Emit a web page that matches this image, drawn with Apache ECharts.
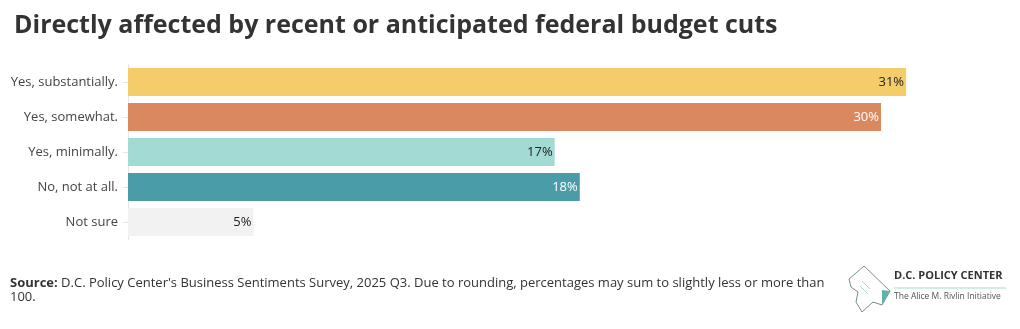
<!DOCTYPE html>
<html><head><meta charset="utf-8">
<script src="https://cdn.jsdelivr.net/npm/echarts@6/dist/echarts.min.js"></script>
<style>html,body{margin:0;padding:0;background:#fff}#c{width:1020px;height:329px}</style>
</head><body><div id="c"></div>
<script>
const categories = ["Yes, substantially.", "Yes, somewhat.", "Yes, minimally.", "No, not at all.", "Not sure"];
const values = [31, 30, 17, 18, 5];
const barColors = ["#F4CD6A", "#DA8860", "#A3DAD3", "#4A9DA8", "#F2F2F2"];
const labelColors = ["#222", "#fff", "#222", "#fff", "#222"];
const title = "Directly affected by recent or anticipated federal budget cuts";

const chart = echarts.init(document.getElementById('c'), null, {renderer: 'canvas'});
const FONT = '"Open Sans", sans-serif';
chart.setOption({
  animation: false,
  title: {text: title, left: 9, top: 8, textStyle: {fontFamily: FONT, fontSize: 25, fontWeight: 'bold', color: '#333'}},
  grid: {left: 128, top: 64.5, height: 175, right: 13.5},
  xAxis: {type: 'value', min: 0, max: 35, show: false},
  yAxis: {
    type: 'category', data: categories, inverse: true,
    axisLine: {show: true, lineStyle: {color: '#e6e6e6'}},
    axisTick: {show: true, length: 5, alignWithLabel: true, lineStyle: {color: '#e6e6e6'}},
    axisLabel: {fontFamily: FONT, fontSize: 13, color: '#444', margin: 10}
  },
  series: [{
    type: 'bar', barCategoryGap: '20%',
    data: values.map((v, i) => ({value: v, itemStyle: {color: barColors[i]},
      label: {color: labelColors[i]}})),
    label: {show: true, position: 'insideRight', distance: 2, fontFamily: FONT, fontSize: 13,
      formatter: p => p.value + '%'}
  }],
  graphic: [
    {type: 'text', left: 10, top: 276, style: {
      text: '{b|Source:} D.C. Policy Center\'s Business Sentiments Survey, 2025 Q3. Due to rounding, percentages may sum to slightly less or more than\n100.',
      rich: {b: {fontWeight: 'bold', fontFamily: FONT, fontSize: 13, fill: '#333'}},
      font: '13px ' + FONT, fill: '#333', lineHeight: 14}},
    {type: 'polygon', shape: {points: [[849,279],[864,266],[890,291],[882,305],[873,302],[862,312],[856,302],[858,292],[851,287]]},
      style: {fill: '#fff', stroke: '#7a8a90', lineWidth: 1}},
    {type: 'polygon', shape: {points: [[882,290],[890,291],[882,305]]}, style: {fill: '#5fb3a8'}},
    {type: 'line', shape: {x1: 862, y1: 281, x2: 870, y2: 289}, style: {stroke: '#a3dad3', lineWidth: 1}},
    {type: 'line', shape: {x1: 860, y1: 286, x2: 868, y2: 294}, style: {stroke: '#a3dad3', lineWidth: 1}},
    {type: 'text', left: 894, top: 270, style: {text: 'D.C. POLICY CENTER', font: 'bold 11px ' + FONT, fill: '#333'}},
    {type: 'line', shape: {x1: 894, y1: 288, x2: 1006, y2: 288}, style: {stroke: '#a3dad3', lineWidth: 1}},
    {type: 'text', left: 894, top: 292, style: {text: 'The Alice M. Rivlin Initiative', font: '8.5px ' + FONT, fill: '#555'}}
  ]
});
</script></body></html>
